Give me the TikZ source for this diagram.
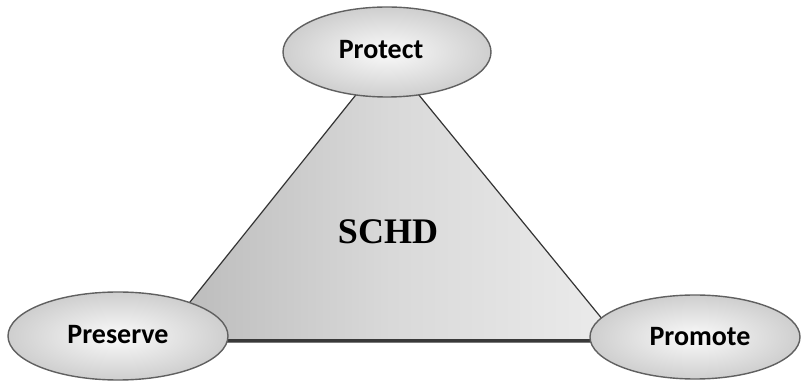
\documentclass[tikz,border=0pt]{standalone}
\usepackage{fontspec}
\setmainfont{Liberation Serif}
\newfontfamily\labelfont{Carlito}
\usetikzlibrary{shapes.geometric}
\tikzset{
  bubble/.style={ellipse, draw=gray!75!black, line width=1.4pt, inner color=gray!4, outer color=gray!38,
    inner sep=0pt},
  bubbletext/.style={font=\labelfont\bfseries\fontsize{28}{30}\selectfont, text=black, inner sep=0pt},
  face/.style={draw=black!80, line width=1.2pt, left color=gray!55, right color=gray!15, middle color=gray!30},
}
\begin{document}
\begin{tikzpicture}[x=1pt,y=1pt]
\useasboundingbox (0,0) rectangle (801,383);
\fill[white] (0,0) rectangle (801,383);
% triangle corners
\coordinate (apex) at (387,327);
\coordinate (left) at (158,41);
\coordinate (right) at (621,41);
\path[face] (left) -- (apex) -- (right) -- cycle;
% bottom bevel strip
\draw[gray!45!black, line width=2.5pt] ([yshift=1.5pt]left) -- ([yshift=1.5pt]right);
\node[font=\bfseries\fontsize{36}{38}\selectfont] (schd) at (388,151) {SCHD};
\node[bubble, minimum width=208pt, minimum height=90pt] (protect) at (387,331) {};
\node[bubbletext] (protectlbl) at (381,333) {Protect};
\node[bubble, minimum width=220pt, minimum height=88pt] (preserve) at (118,47) {};
\node[bubbletext] (preservelbl) at (118,48) {Preserve};
\node[bubble, minimum width=210pt, minimum height=84pt] (promote) at (695,46) {};
\node[bubbletext] (promotelbl) at (700,46) {Promote};
\end{tikzpicture}
\end{document}
